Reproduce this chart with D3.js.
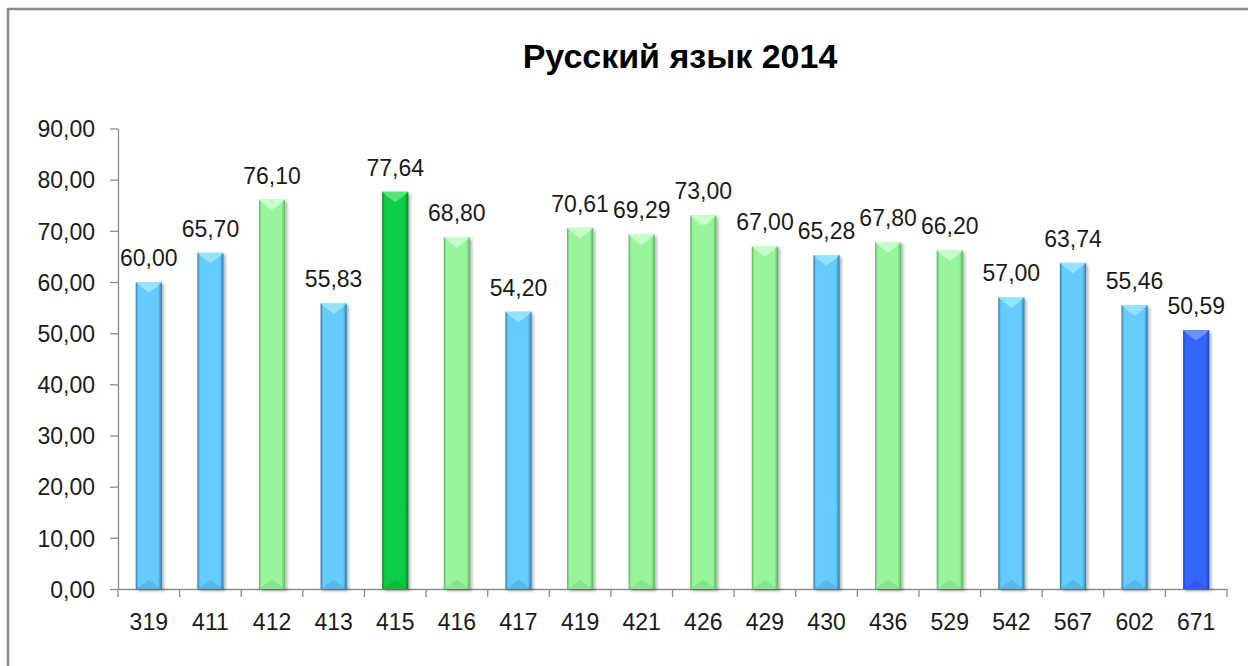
<!DOCTYPE html>
<html>
<head>
<meta charset="utf-8">
<script src="https://cdn.jsdelivr.net/npm/d3@7"></script>
<style>
  html, body { margin: 0; padding: 0; background: #fff; }
  svg { display: block; }
</style>
</head>
<body>
<div id="container"></div>
<script>
// Chart data
const categories = ['319', '411', '412', '413', '415', '416', '417', '419', '421',
                    '426', '429', '430', '436', '529', '542', '567', '602', '671'];
const values = [60.00, 65.70, 76.10, 55.83, 77.64, 68.80, 54.20, 70.61, 69.29,
                73.00, 67.00, 65.28, 67.80, 66.20, 57.00, 63.74, 55.46, 50.59];
// colour group of every bar
const groups = ['blue', 'blue', 'green', 'blue', 'darkgreen', 'green', 'blue', 'green', 'green',
                'green', 'green', 'blue', 'green', 'green', 'blue', 'blue', 'blue', 'darkblue'];
const yTicks = [0, 10, 20, 30, 40, 50, 60, 70, 80, 90];
const title = 'Русский язык 2014';

// ---------------------------------------------------------------------------
// Helpers
// ---------------------------------------------------------------------------

const fmt = (v) => v.toFixed(2).replace('.', ',');

// edge / body / highlight tones for each colour group
const palette = {
  blue:      { edge: '#2f7aa8', body: '#66ccff', light: '#9ae6ff' },
  green:     { edge: '#58b860', body: '#99f59b', light: '#ccffce' },
  darkgreen: { edge: '#087f28', body: '#11cc44', light: '#5ee67f' },
  darkblue:  { edge: '#1f44b8', body: '#3366ff', light: '#7397ff' },
};

function drawChart() {
  const W = 1248;
  const H = 666;
  const font = "'Liberation Sans', Arial, sans-serif";

  const plotLeft = 118;
  const plotRight = 1227;
  const plotTop = 128.5;
  const plotBottom = 589;

  const svg = d3.select('#container')
    .append('svg')
    .attr('width', W)
    .attr('height', H);

  const defs = svg.append('defs');

  // ── Gradients & shadow ─────────────────────────────────────────────────
  Object.entries(palette).forEach(([key, c]) => {
    const g = defs.append('linearGradient')
      .attr('id', `grad-${key}`)
      .attr('x1', '0%').attr('x2', '100%')
      .attr('y1', '0%').attr('y2', '0%');
    g.append('stop').attr('offset', '0%').attr('stop-color', c.edge);
    g.append('stop').attr('offset', '10%').attr('stop-color', c.body);
    g.append('stop').attr('offset', '86%').attr('stop-color', c.body);
    g.append('stop').attr('offset', '100%').attr('stop-color', c.edge);
  });

  const shadow = defs.append('filter')
    .attr('id', 'shadow')
    .attr('x', '-30%').attr('y', '-10%')
    .attr('width', '160%').attr('height', '120%');
  shadow.append('feDropShadow')
    .attr('dx', 2).attr('dy', 2)
    .attr('stdDeviation', 1.8)
    .attr('flood-color', '#000')
    .attr('flood-opacity', 0.3);

  // ── Chart frame ────────────────────────────────────────────────────────
  svg.append('rect')
    .attr('x', 8).attr('y', 9)
    .attr('width', W + 20).attr('height', H + 20)
    .attr('fill', 'none')
    .attr('stroke', '#8a8a8a')
    .attr('stroke-width', 2.5);

  // ── Scales ─────────────────────────────────────────────────────────────
  const xSlot = d3.scaleBand()
    .domain(categories)
    .range([plotLeft, plotRight])
    .padding(0);

  const xBar = d3.scaleBand()
    .domain(categories)
    .range([plotLeft, plotRight])
    .paddingInner(0.575)
    .paddingOuter(0.2875);

  const y = d3.scaleLinear()
    .domain([0, 90])
    .range([plotBottom, plotTop]);

  // ── Title ──────────────────────────────────────────────────────────────
  svg.append('text')
    .attr('x', 680)
    .attr('y', 68)
    .attr('text-anchor', 'middle')
    .attr('font-family', font)
    .attr('font-weight', 'bold')
    .attr('font-size', '34px')
    .attr('fill', '#000')
    .text(title);

  // ── Y axis ─────────────────────────────────────────────────────────────
  const yAxis = svg.append('g')
    .attr('transform', `translate(${plotLeft},0)`)
    .call(d3.axisLeft(y)
      .tickValues(yTicks)
      .tickFormat(fmt)
      .tickSize(8)
      .tickSizeOuter(0)
      .tickPadding(15));
  yAxis.selectAll('path, line').attr('stroke', '#8c8c8c').attr('stroke-width', 1.3);
  yAxis.selectAll('text')
    .attr('font-family', font)
    .attr('font-size', '23px')
    .attr('fill', '#1a1a1a')
    .attr('dy', '0.36em');

  // ── X axis ─────────────────────────────────────────────────────────────
  const xAxis = svg.append('g')
    .attr('transform', `translate(0,${plotBottom})`)
    .call(d3.axisBottom(xSlot)
      .tickSize(0)
      .tickSizeOuter(0)
      .tickPadding(24.5));
  xAxis.select('.domain').attr('stroke', '#8c8c8c').attr('stroke-width', 1.3);
  xAxis.selectAll('text')
    .attr('font-family', font)
    .attr('font-size', '23px')
    .attr('fill', '#1a1a1a');

  // tick marks sit on the category boundaries
  const boundaries = categories.map((c) => xSlot(c)).concat([xSlot.range()[1]]);
  svg.append('g')
    .selectAll('line')
    .data(boundaries)
    .join('line')
    .attr('x1', (d) => d).attr('x2', (d) => d)
    .attr('y1', plotBottom).attr('y2', plotBottom + 8)
    .attr('stroke', '#8c8c8c')
    .attr('stroke-width', 1.3);

  // ── Bars ───────────────────────────────────────────────────────────────
  const rows = categories.map((c, i) => ({ cat: c, value: values[i], group: groups[i] }));
  const bw = xBar.bandwidth();

  const bars = svg.append('g')
    .selectAll('g')
    .data(rows)
    .join('g');

  bars.append('rect')
    .attr('x', (d) => xBar(d.cat))
    .attr('y', (d) => y(d.value))
    .attr('width', bw)
    .attr('height', (d) => y(0) - y(d.value))
    .attr('fill', (d) => `url(#grad-${d.group})`)
    .attr('filter', 'url(#shadow)');

  // top bevel highlight
  bars.append('path')
    .attr('d', (d) => {
      const x0 = xBar(d.cat);
      const x1 = x0 + bw;
      const t = y(d.value);
      return `M${x0},${t} L${x1},${t} L${x1 - bw * 0.2},${t + bw * 0.18} ` +
             `L${x0 + bw / 2},${t + bw * 0.4} L${x0 + bw * 0.2},${t + bw * 0.18} Z`;
    })
    .attr('fill', (d) => palette[d.group].light)
    .attr('opacity', 0.9);

  // faint bottom bevel
  bars.append('path')
    .attr('d', (d) => {
      const x0 = xBar(d.cat);
      const x1 = x0 + bw;
      const b = y(0);
      return `M${x0},${b} L${x1},${b} L${x0 + bw / 2},${b - bw * 0.35} Z`;
    })
    .attr('fill', (d) => palette[d.group].edge)
    .attr('opacity', 0.25);

  // ── Value labels ───────────────────────────────────────────────────────
  svg.append('g')
    .selectAll('text')
    .data(rows)
    .join('text')
    .attr('x', (d) => xBar(d.cat) + bw / 2)
    .attr('y', (d) => y(d.value) - 16)
    .attr('text-anchor', 'middle')
    .attr('font-family', font)
    .attr('font-size', '23px')
    .attr('fill', '#1a1a1a')
    .text((d) => fmt(d.value));
}

drawChart();
</script>
</body>
</html>
